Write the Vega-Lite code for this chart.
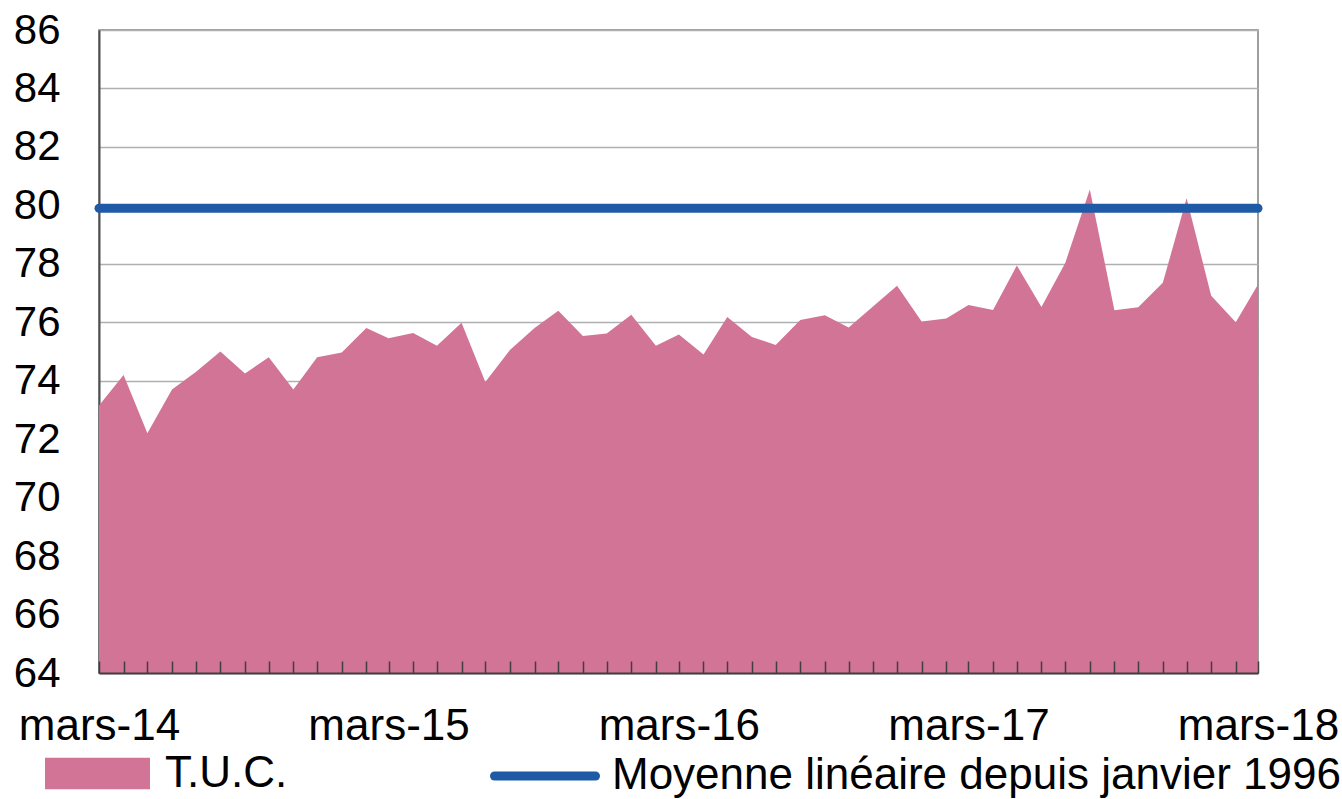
{
  "$schema": "https://vega.github.io/schema/vega-lite/v6.json",
  "width": 1159,
  "height": 643,
  "autosize": {"type": "none"},
  "padding": {"left": 99, "top": 30, "right": 84, "bottom": 126},
  "background": "white",
  "config": {
    "font": "Liberation Sans",
    "view": {"stroke": "#7f7f7f", "strokeWidth": 1.5},
    "axis": {"labelFont": "Liberation Sans", "labelColor": "#000000", "labelFontSize": 42, "title": null}
  },
  "datasets": {
    "tuc": [
      {"mois": "2014-03-01", "valeur": 73.15},
      {"mois": "2014-04-01", "valeur": 74.2},
      {"mois": "2014-05-01", "valeur": 72.2},
      {"mois": "2014-06-01", "valeur": 73.7},
      {"mois": "2014-07-01", "valeur": 74.3},
      {"mois": "2014-08-01", "valeur": 75.0},
      {"mois": "2014-09-01", "valeur": 74.25},
      {"mois": "2014-10-01", "valeur": 74.8},
      {"mois": "2014-11-01", "valeur": 73.7},
      {"mois": "2014-12-01", "valeur": 74.8},
      {"mois": "2015-01-01", "valeur": 74.97},
      {"mois": "2015-02-01", "valeur": 75.8},
      {"mois": "2015-03-01", "valeur": 75.45},
      {"mois": "2015-04-01", "valeur": 75.63},
      {"mois": "2015-05-01", "valeur": 75.2},
      {"mois": "2015-06-01", "valeur": 75.98},
      {"mois": "2015-07-01", "valeur": 73.96},
      {"mois": "2015-08-01", "valeur": 75.05},
      {"mois": "2015-09-01", "valeur": 75.8},
      {"mois": "2015-10-01", "valeur": 76.39},
      {"mois": "2015-11-01", "valeur": 75.53},
      {"mois": "2015-12-01", "valeur": 75.62},
      {"mois": "2016-01-01", "valeur": 76.26},
      {"mois": "2016-02-01", "valeur": 75.2},
      {"mois": "2016-03-01", "valeur": 75.58},
      {"mois": "2016-04-01", "valeur": 74.9},
      {"mois": "2016-05-01", "valeur": 76.18},
      {"mois": "2016-06-01", "valeur": 75.5},
      {"mois": "2016-07-01", "valeur": 75.22},
      {"mois": "2016-08-01", "valeur": 76.08},
      {"mois": "2016-09-01", "valeur": 76.24},
      {"mois": "2016-10-01", "valeur": 75.82},
      {"mois": "2016-11-01", "valeur": 76.55},
      {"mois": "2016-12-01", "valeur": 77.25},
      {"mois": "2017-01-01", "valeur": 76.03},
      {"mois": "2017-02-01", "valeur": 76.13},
      {"mois": "2017-03-01", "valeur": 76.59},
      {"mois": "2017-04-01", "valeur": 76.42},
      {"mois": "2017-05-01", "valeur": 77.94},
      {"mois": "2017-06-01", "valeur": 76.52},
      {"mois": "2017-07-01", "valeur": 78.03},
      {"mois": "2017-08-01", "valeur": 80.54},
      {"mois": "2017-09-01", "valeur": 76.41},
      {"mois": "2017-10-01", "valeur": 76.51},
      {"mois": "2017-11-01", "valeur": 77.35},
      {"mois": "2017-12-01", "valeur": 80.24},
      {"mois": "2018-01-01", "valeur": 76.91},
      {"mois": "2018-02-01", "valeur": 76.0},
      {"mois": "2018-03-01", "valeur": 77.29}
    ],
    "moyenne": [
      {"valeur": 79.9}
    ]
  },
  "layer": [
    {
      "data": {"name": "tuc"},
      "mark": {"type": "area", "opacity": 1},
      "encoding": {
        "x": {
          "field": "mois",
          "type": "temporal",
          "scale": {"type": "utc", "domain": ["2014-03-01", "2018-03-01"], "nice": false},
          "axis": {
            "tickCount": {"interval": "month", "step": 1},
            "labelExpr": "utcmonth(datum.value) == 2 ? 'mars-' + utcFormat(datum.value, '%y') : ''",
            "labelFlush": false,
            "labelOverlap": false,
            "labelFontSize": 44,
            "labelPadding": 43,
            "tickSize": -12,
            "tickColor": "#3f3f3f",
            "tickWidth": 1.5,
            "domainColor": "#3f3f3f",
            "domainWidth": 2,
            "grid": false,
            "zindex": 1
          }
        },
        "y": {
          "field": "valeur",
          "type": "quantitative",
          "scale": {"domain": [64, 86], "nice": false, "zero": false},
          "axis": {
            "values": [64, 66, 68, 70, 72, 74, 76, 78, 80, 82, 84, 86],
            "ticks": false,
            "labelPadding": 39,
            "domainColor": "#4f4f4f",
            "domainWidth": 2,
            "grid": true,
            "gridColor": "#b0b0b0",
            "gridWidth": 1.5
          }
        },
        "y2": {"datum": 64},
        "fill": {
          "datum": "T.U.C.",
          "scale": {"domain": ["T.U.C."], "range": ["#D27496"]},
          "legend": {
            "orient": "none",
            "legendX": -54,
            "legendY": 691,
            "padding": 0,
            "title": null,
            "symbolType": "M-1,-0.3H1V0.3H-1Z",
            "symbolSize": 11025,
            "symbolStrokeWidth": 0,
            "symbolOpacity": 1,
            "labelFont": "Liberation Sans",
            "labelFontSize": 44,
            "labelColor": "#000000",
            "labelOffset": 15,
            "labelLimit": 1000
          }
        }
      }
    },
    {
      "data": {"name": "moyenne"},
      "mark": {"type": "rule", "strokeWidth": 9, "strokeCap": "round"},
      "encoding": {
        "y": {"field": "valeur", "type": "quantitative"},
        "stroke": {
          "datum": "Moyenne linéaire depuis janvier 1996",
          "scale": {"domain": ["Moyenne linéaire depuis janvier 1996"], "range": ["#1F5AA6"]},
          "legend": {
            "orient": "none",
            "legendX": 391,
            "legendY": 691,
            "padding": 0,
            "title": null,
            "symbolType": "stroke",
            "symbolSize": 10201,
            "symbolStrokeWidth": 9,
            "labelFont": "Liberation Sans",
            "labelFontSize": 44,
            "labelColor": "#000000",
            "labelOffset": 12,
            "labelLimit": 1000,
            "encode": {"symbols": {"update": {"strokeCap": {"value": "round"}}}}
          }
        }
      }
    }
  ]
}
